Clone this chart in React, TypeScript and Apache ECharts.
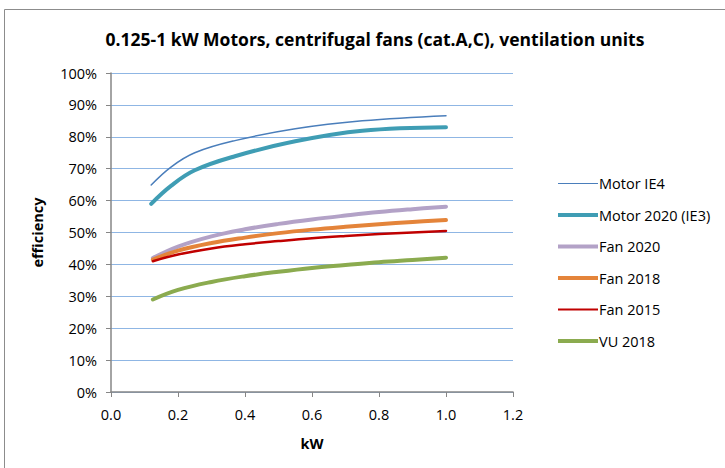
import React, { useEffect, useRef } from "react";
import * as echarts from "echarts";

const title = "0.125-1 kW Motors, centrifugal fans (cat.A,C), ventilation units";
const xTicks = [0, 0.2, 0.4, 0.6, 0.8, 1.0, 1.2];
const yTicks = [0, 10, 20, 30, 40, 50, 60, 70, 80, 90, 100];

const motorKW = [0.12, 0.18, 0.25, 0.37, 0.55, 0.75, 1.0];
const motorIE4 = [64.9, 70.6, 75.0, 78.8, 82.5, 85.0, 86.6];
const motor2020 = [59.0, 64.7, 69.5, 73.9, 78.6, 81.9, 83.0];

const fanKW = [0.125, 0.2, 0.3, 0.4, 0.5, 0.6, 0.7, 0.8, 0.9, 1.0];
const fan2020 = [42.0, 45.6, 48.8, 51.0, 52.7, 54.1, 55.3, 56.4, 57.3, 58.1];
const fan2018 = [41.5, 44.3, 46.7, 48.4, 49.8, 50.9, 51.8, 52.6, 53.3, 53.9];
const fan2015 = [41.0, 43.1, 45.0, 46.3, 47.3, 48.2, 48.9, 49.5, 50.0, 50.5];
const vu2018 = [29.0, 32.0, 34.5, 36.3, 37.7, 38.9, 39.8, 40.7, 41.4, 42.1];

const FONT = "Open Sans";

function pairs(xs: number[], ys: number[]) {
  return xs.map((x, i) => [x, ys[i]]);
}

export default function App() {
  const ref = useRef<HTMLDivElement>(null);
  useEffect(() => {
    if (!ref.current) return;
    const chart = echarts.init(ref.current, undefined, { renderer: "svg" });
    const mk = (name: string, xs: number[], ys: number[], color: string, width: number) => ({
      name,
      type: "line",
      data: pairs(xs, ys),
      smooth: 0.4,
      symbol: "none",
      lineStyle: { color, width, cap: "round", join: "round" },
      itemStyle: { color },
    });
    chart.setOption({
      animation: false,
      backgroundColor: "#fff",
      textStyle: { fontFamily: FONT },
      title: {
        text: title,
        left: 370,
        textAlign: "center",
        top: 25,
        textStyle: { fontFamily: FONT, fontSize: 17.5, fontWeight: "bold", color: "#000" },
      },
      graphic: [
        {
          type: "rect",
          shape: { x: 4.5, y: 9.5, width: 800, height: 600 },
          style: { fill: "none", stroke: "#8c8c8c", lineWidth: 1 },
          silent: true,
        },
      ],
      legend: {
        orient: "vertical",
        left: 553,
        top: 171,
        itemWidth: 40,
        itemHeight: 14,
        itemGap: 16.5,
        textStyle: { fontFamily: FONT, fontSize: 14.5, color: "#000", padding: [0, 0, 0, -4] },
        data: [
          { name: "Motor IE4", icon: "path://M0,6.4 L40,6.4 L40,7.6 L0,7.6 Z" },
          { name: "Motor 2020 (IE3)", icon: "path://M0,5 L40,5 L40,9 L0,9 Z" },
          { name: "Fan 2020", icon: "path://M0,5 L40,5 L40,9 L0,9 Z" },
          { name: "Fan 2018", icon: "path://M0,5 L40,5 L40,9 L0,9 Z" },
          { name: "Fan 2015", icon: "path://M0,5.9 L40,5.9 L40,8.1 L0,8.1 Z" },
          { name: "VU 2018", icon: "path://M0,5 L40,5 L40,9 L0,9 Z" },
        ],
      },
      grid: { left: 111, right: 212, top: 73, bottom: 76 },
      xAxis: {
        type: "value",
        min: xTicks[0],
        max: xTicks[xTicks.length - 1],
        interval: 0.2,
        name: "kW",
        nameLocation: "middle",
        nameGap: 44,
        nameTextStyle: { fontFamily: FONT, fontSize: 14.5, fontWeight: "bold", color: "#000" },
        axisLine: { show: true, lineStyle: { color: "#868686", width: 1.5 } },
        axisTick: { show: true, length: 5, lineStyle: { color: "#868686" } },
        axisLabel: {
          margin: 15,
          fontFamily: FONT,
          fontSize: 14.5,
          color: "#000",
          formatter: (v: number) => v.toFixed(1),
        },
        splitLine: { show: false },
      },
      yAxis: {
        type: "value",
        min: yTicks[0],
        max: yTicks[yTicks.length - 1],
        interval: 10,
        name: "efficiency",
        nameLocation: "middle",
        nameGap: 66,
        nameRotate: 90,
        nameTextStyle: { fontFamily: FONT, fontSize: 14.5, fontWeight: "bold", color: "#000" },
        axisLine: { show: true, lineStyle: { color: "#868686", width: 1.5 } },
        axisTick: { show: true, length: 5, inside: false, lineStyle: { color: "#868686" } },
        axisLabel: {
          margin: 14,
          fontFamily: FONT,
          fontSize: 14.5,
          color: "#000",
          formatter: (v: number) => v + "%",
        },
        splitLine: { show: true, lineStyle: { color: "#8fb6e4", width: 1.2 } },
      },
      series: [
        mk("Motor IE4", motorKW, motorIE4, "#4a7ebb", 1.5),
        mk("Motor 2020 (IE3)", motorKW, motor2020, "#3f9db4", 4),
        mk("Fan 2020", fanKW, fan2020, "#b3a2c7", 4),
        mk("Fan 2018", fanKW, fan2018, "#e4843a", 4),
        mk("Fan 2015", fanKW, fan2015, "#c00000", 2.5),
        mk("VU 2018", fanKW, vu2018, "#8bab4f", 4),
      ],
    });
    return () => chart.dispose();
  }, []);
  return <div ref={ref} style={{ width: 725, height: 468, position: "absolute", left: 0, top: 0 }} />;
}
